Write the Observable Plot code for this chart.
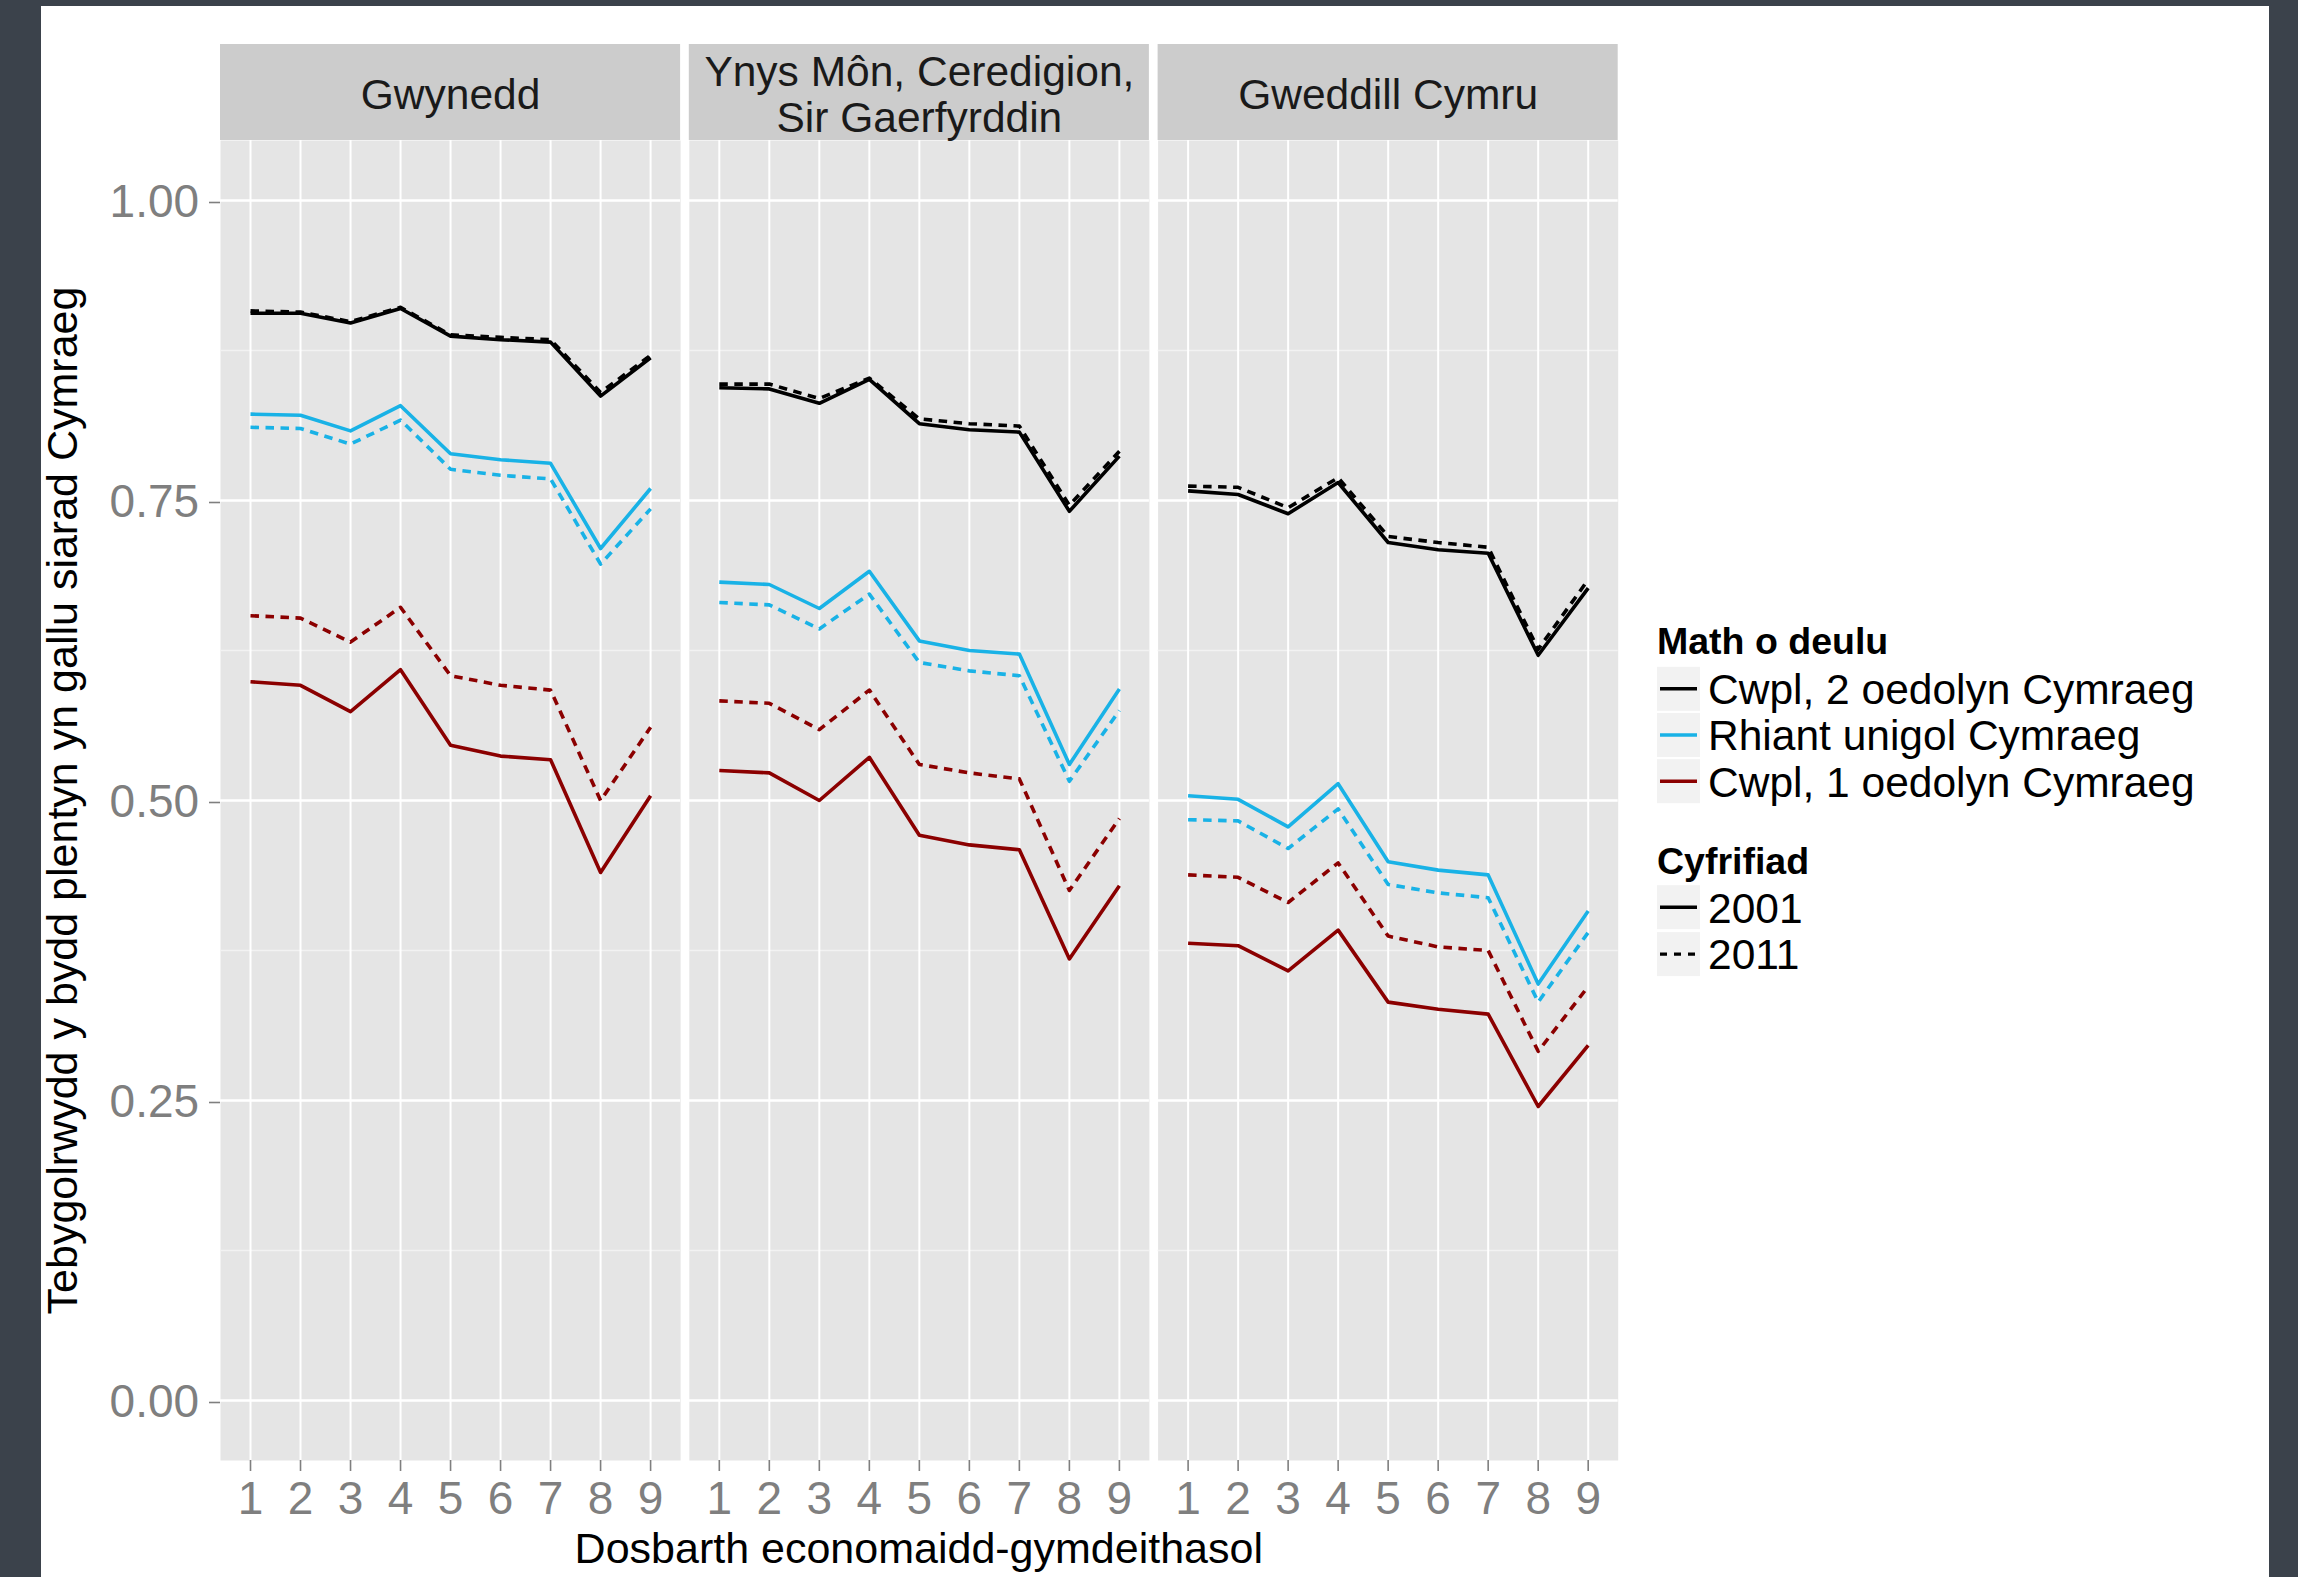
<!DOCTYPE html>
<html>
<head>
<meta charset="utf-8">
<script src="https://cdn.jsdelivr.net/npm/d3@7"></script>
<script src="https://cdn.jsdelivr.net/npm/@observablehq/plot@0.6"></script>
<style>
html, body { margin: 0; padding: 0; background: #3b424b; width: 2298px; height: 1577px; overflow: hidden; }
#sheet { position: absolute; left: 41px; top: 6px; width: 2228px; height: 1571px; background: #ffffff; }
#chart { position: absolute; left: 0; top: 0; width: 2298px; height: 1577px; }
#overlay { position: absolute; left: 0; top: 0; }
text { font-family: "Liberation Sans", Arial, Helvetica, sans-serif; }
</style>
</head>
<body>
<div id="sheet"></div>
<div id="chart"></div>
<svg id="overlay" width="2298" height="1577"></svg>
<script>
// ---------- data ----------
const classes = [1, 2, 3, 4, 5, 6, 7, 8, 9];
const regions = ["Gwynedd", "Ynys Môn, Ceredigion,\nSir Gaerfyrddin", "Gweddill Cymru"];
const familyTypes = ["Cwpl, 2 oedolyn Cymraeg", "Rhiant unigol Cymraeg", "Cwpl, 1 oedolyn Cymraeg"];
const familyColors = ["#000000", "#19b2e6", "#8b0000"];
const censuses = ["2001", "2011"];
const yTicks = [0, 0.25, 0.5, 0.75, 1];
const yMinorTicks = [0.125, 0.375, 0.625, 0.875];
const xTitle = "Dosbarth economaidd-gymdeithasol";
const yTitle = "Tebygolrwydd y bydd plentyn yn gallu siarad Cymraeg";
const familyLegendTitle = "Math o deulu";
const censusLegendTitle = "Cyfrifiad";

// Gwynedd
const gwyneddCwpl2_2001 = [0.906, 0.906, 0.898, 0.910, 0.887, 0.884, 0.882, 0.837, 0.869];
const gwyneddCwpl2_2011 = [0.908, 0.907, 0.899, 0.911, 0.888, 0.886, 0.884, 0.840, 0.871];
const gwyneddRhiant_2001 = [0.822, 0.821, 0.808, 0.829, 0.789, 0.784, 0.781, 0.710, 0.760];
const gwyneddRhiant_2011 = [0.811, 0.810, 0.797, 0.817, 0.776, 0.771, 0.768, 0.697, 0.743];
const gwyneddCwpl1_2001 = [0.599, 0.596, 0.574, 0.609, 0.546, 0.537, 0.534, 0.440, 0.504];
const gwyneddCwpl1_2011 = [0.654, 0.652, 0.632, 0.661, 0.604, 0.596, 0.592, 0.500, 0.561];
// Ynys Môn, Ceredigion, Sir Gaerfyrddin
const ynysCwpl2_2001 = [0.844, 0.843, 0.831, 0.851, 0.814, 0.809, 0.807, 0.741, 0.787];
const ynysCwpl2_2011 = [0.847, 0.847, 0.835, 0.852, 0.818, 0.814, 0.812, 0.746, 0.791];
const ynysRhiant_2001 = [0.682, 0.680, 0.660, 0.691, 0.633, 0.625, 0.622, 0.530, 0.593];
const ynysRhiant_2011 = [0.665, 0.663, 0.643, 0.672, 0.615, 0.608, 0.604, 0.516, 0.575];
const ynysCwpl1_2001 = [0.525, 0.523, 0.500, 0.536, 0.471, 0.463, 0.459, 0.368, 0.429];
const ynysCwpl1_2011 = [0.583, 0.581, 0.559, 0.592, 0.530, 0.523, 0.518, 0.425, 0.485];
// Gweddill Cymru
const gweddillCwpl2_2001 = [0.758, 0.755, 0.739, 0.765, 0.715, 0.709, 0.706, 0.621, 0.677];
const gweddillCwpl2_2011 = [0.762, 0.761, 0.744, 0.769, 0.720, 0.715, 0.711, 0.626, 0.684];
const gweddillRhiant_2001 = [0.504, 0.501, 0.478, 0.514, 0.449, 0.442, 0.438, 0.347, 0.408];
const gweddillRhiant_2011 = [0.484, 0.483, 0.460, 0.493, 0.430, 0.423, 0.419, 0.332, 0.390];
const gweddillCwpl1_2001 = [0.381, 0.379, 0.358, 0.392, 0.332, 0.326, 0.322, 0.245, 0.296];
const gweddillCwpl1_2011 = [0.438, 0.436, 0.415, 0.448, 0.387, 0.378, 0.375, 0.291, 0.345];

const series = [
  [regions[0], familyTypes[0], censuses[0], gwyneddCwpl2_2001],
  [regions[0], familyTypes[0], censuses[1], gwyneddCwpl2_2011],
  [regions[0], familyTypes[1], censuses[0], gwyneddRhiant_2001],
  [regions[0], familyTypes[1], censuses[1], gwyneddRhiant_2011],
  [regions[0], familyTypes[2], censuses[0], gwyneddCwpl1_2001],
  [regions[0], familyTypes[2], censuses[1], gwyneddCwpl1_2011],
  [regions[1], familyTypes[0], censuses[0], ynysCwpl2_2001],
  [regions[1], familyTypes[0], censuses[1], ynysCwpl2_2011],
  [regions[1], familyTypes[1], censuses[0], ynysRhiant_2001],
  [regions[1], familyTypes[1], censuses[1], ynysRhiant_2011],
  [regions[1], familyTypes[2], censuses[0], ynysCwpl1_2001],
  [regions[1], familyTypes[2], censuses[1], ynysCwpl1_2011],
  [regions[2], familyTypes[0], censuses[0], gweddillCwpl2_2001],
  [regions[2], familyTypes[0], censuses[1], gweddillCwpl2_2011],
  [regions[2], familyTypes[1], censuses[0], gweddillRhiant_2001],
  [regions[2], familyTypes[1], censuses[1], gweddillRhiant_2011],
  [regions[2], familyTypes[2], censuses[0], gweddillCwpl1_2001],
  [regions[2], familyTypes[2], censuses[1], gweddillCwpl1_2011]
];
const table = series.flatMap(([region, family, census, values]) =>
  values.map((value, i) => ({region, family, census, cls: classes[i], value})));

// ---------- chart ----------
const FONT = "'Liberation Sans', Arial, Helvetica, sans-serif";
const DASH = "8.5,6.5";
const LINE_W = 3.6;
const xDomain = [0.4, 9.6];
const yDomain = [-0.05, 1.05];

const plot = Plot.plot({
  width: 2298,
  height: 1577,
  marginLeft: 220,
  marginRight: 680.3,
  marginTop: 140,
  marginBottom: 117,
  style: {background: "transparent", fontFamily: FONT, overflow: "visible"},
  fx: {domain: regions, paddingInner: 0.01856, paddingOuter: 0, round: false, axis: null, label: null},
  x: {domain: xDomain, label: null},
  y: {domain: yDomain, label: null},
  color: {domain: familyTypes, range: familyColors},
  marks: [
    Plot.frame({fill: "#e5e5e5", stroke: "none"}),
    Plot.gridY(yMinorTicks, {stroke: "#f2f2f2", strokeOpacity: 1, strokeWidth: 1.3}),
    Plot.gridY(yTicks, {stroke: "#ffffff", strokeOpacity: 1, strokeWidth: 2.4}),
    Plot.gridX(classes, {stroke: "#ffffff", strokeOpacity: 1, strokeWidth: 2}),
    // facet strips
    Plot.rect(regions, {fx: d => d, x1: xDomain[0], x2: xDomain[1], y1: yDomain[1], y2: 1.13, fill: "#cccccc"}),
    Plot.text(regions, {fx: d => d, text: d => d, x: 5, y: 1.0885, fontSize: 42.5, lineHeight: 1.08, fill: "#1a1a1a", lineAnchor: "middle"}),
    // data lines
    Plot.line(table.filter(d => d.census === censuses[0]), {
      fx: "region", x: "cls", y: "value", z: "family", stroke: "family",
      strokeWidth: LINE_W, strokeLinejoin: "round", strokeLinecap: "butt"
    }),
    Plot.line(table.filter(d => d.census === censuses[1]), {
      fx: "region", x: "cls", y: "value", z: "family", stroke: "family",
      strokeWidth: LINE_W, strokeDasharray: DASH, strokeLinejoin: "round", strokeLinecap: "butt"
    }),
    // axes
    Plot.axisX(classes, {tickSize: 11, tickPadding: 9.5, fontSize: 46, color: "#7f7f7f", strokeWidth: 1.6, label: null, tickFormat: d => String(d)}),
    Plot.axisY(yTicks, {tickSize: 11, tickPadding: 10.4, fontSize: 46, color: "#7f7f7f", strokeWidth: 1.6, label: null, tickFormat: d3.format(".2f"), dy: 2})
  ]
});
document.getElementById("chart").appendChild(plot);

// ---------- titles and legend ----------
const ov = d3.select("#overlay");
ov.append("text")
  .attr("x", 918.8).attr("y", 1563)
  .attr("text-anchor", "middle").attr("font-size", 43).attr("fill", "#000")
  .text(xTitle);
ov.append("text")
  .attr("transform", "translate(77,800.5) rotate(-90)")
  .attr("text-anchor", "middle").attr("font-size", 43).attr("fill", "#000")
  .text(yTitle);

function legendBlock(title, titleBaseline, firstKeyTop, step, items) {
  ov.append("text")
    .attr("x", 1657).attr("y", titleBaseline)
    .attr("font-size", 37.5).attr("font-weight", "bold").attr("fill", "#000")
    .text(title);
  items.forEach((it, i) => {
    const top = firstKeyTop + i * step;
    const cy = top + 22;
    ov.append("rect").attr("x", 1657).attr("y", top).attr("width", 43).attr("height", 44).attr("fill", "#f2f2f2");
    ov.append("line").attr("x1", 1660).attr("x2", 1697).attr("y1", cy).attr("y2", cy)
      .attr("stroke", it.color).attr("stroke-width", 3.4)
      .attr("stroke-dasharray", it.dash || null);
    ov.append("text").attr("x", 1708).attr("y", cy + 15.3)
      .attr("font-size", 42.5).attr("fill", "#000").text(it.label);
  });
}
legendBlock(familyLegendTitle, 653.5, 666.8, 46.2,
  familyTypes.map((f, i) => ({label: f, color: familyColors[i]})));
legendBlock(censusLegendTitle, 873.6, 885.2, 46.9,
  censuses.map((c, i) => ({label: c, color: "#000000", dash: i === 1 ? "7,7" : null})));
</script>
</body>
</html>
